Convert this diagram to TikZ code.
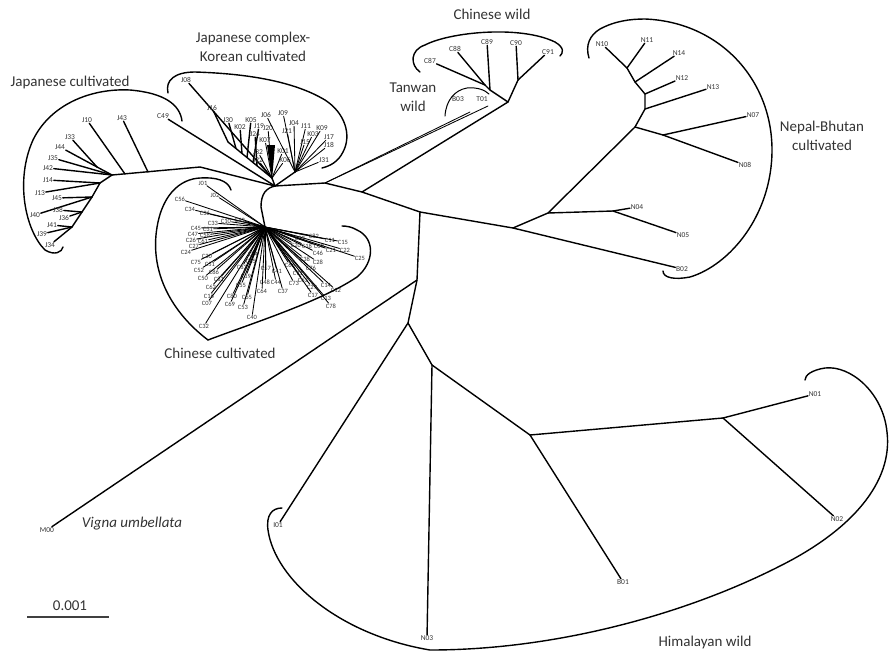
\documentclass[tikz,border=0pt]{standalone}
\usepackage{fontspec}
\setmainfont{Carlito}
\begin{document}
\begin{tikzpicture}[x=1pt,y=-1pt,
  br/.style={line width=1.4pt,line cap=round,line join=round},
  fan/.style={line width=0.85pt,line cap=round},
  hull/.style={line width=1.4pt,line cap=round},
  leaf/.style={font=\fontsize{7.5}{8}\selectfont,inner sep=0.6pt,text=black!80},
  dense/.style={font=\fontsize{6.5}{7}\selectfont,inner sep=0.4pt,text=black!80},
  grp/.style={font=\fontsize{15}{18.5}\selectfont,align=center,text=black!80,inner sep=0pt},
]
\useasboundingbox (0,0) rectangle (889,654);

% ---------- internal coordinates ----------
\coordinate (Hub) at (265,227);
\coordinate (bend) at (261,207);
\coordinate (R1) at (275,186);
\coordinate (Q) at (325,183);
\coordinate (W) at (362,192);
\coordinate (P) at (420,212);
% Japanese cultivated
\coordinate (JC) at (112,175);
\coordinate (JCa) at (200,167);
\coordinate (JA) at (97,167);
\coordinate (JB) at (100,183);
\coordinate (JB2) at (92,197);
\coordinate (JB3) at (82,212);
\coordinate (JB4) at (72,227);
\coordinate (j10p) at (125,174);
\coordinate (j43p) at (148,172);
% Japanese complex / Korean
\coordinate (JK) at (272,178);
\coordinate (JL) at (228,142);
\coordinate (jl1) at (236,148.5);
\coordinate (jl2) at (242,153.5);
\coordinate (jl3) at (247,157.5);
\coordinate (jl4) at (253,162.5);
\coordinate (jl5) at (257,165.7);
\coordinate (JR) at (295,172);
% Chinese wild
\coordinate (CW) at (508,102);
\coordinate (CW1) at (518,80);
\coordinate (CW2) at (490,90);
\coordinate (CW3) at (485,85);
\coordinate (b03e) at (470,112);
\coordinate (t01e) at (488,106);
% Nepal-Bhutan
\coordinate (NB1) at (513,228);
\coordinate (NB2) at (548,213);
\coordinate (N45) at (613,211);
\coordinate (NP) at (635,127);
\coordinate (N78) at (663,135);
\coordinate (N13n) at (645,109);
\coordinate (N12n) at (645,94);
\coordinate (N14n) at (635,82);
\coordinate (N1011) at (627,68);
% Himalayan
\coordinate (H1) at (417,280);
\coordinate (H2) at (408,323);
\coordinate (H3) at (432,365);
\coordinate (H4) at (530,435);
\coordinate (H5) at (723,418);

% ---------- backbone ----------
\draw[br] (Hub) -- (bend) .. controls (261,194) and (266,188) .. (R1) -- (Q) -- (W) -- (P);
\draw[br] (R1) -- (JCa) -- (JC);
\draw[br] (JC) -- (JA);
\draw[br] (JC) -- (JB) -- (JB2) -- (JB3) -- (JB4);
\draw[br] (R1) -- (JK) -- (JL);
\draw[br] (R1) -- (JR);
\draw[br] (W) -- (CW) -- (CW1);
\draw[br] (CW) -- (CW2) -- (CW3);
\draw[fan] (Q) -- (b03e);
\draw[fan] (Q) -- (t01e);
\draw[br] (P) -- (NB1) -- (NB2) -- (N45);
\draw[br] (NB2) -- (NP) -- (N78);
\draw[br] (NP) -- (N13n) -- (N12n) -- (N14n) -- (N1011);
\draw[br] (P) -- (H1) -- (H2) -- (H3) -- (H4) -- (H5);
\fill (267,145) -- (275,145) -- (272,180) -- cycle;

% ---------- leaves with parents ----------
\foreach \nm/\px/\py/\pa in {
  J33/70/137/JA, J44/60/147/JA, J35/53/158/JC, J42/48/168/JC,
  J14/48/180/JB, J13/40/193/JB, J45/57/198/JB2, J40/35/215/JB2,
  J38/58/210/JB3, J36/64/218/JB3, J41/52/225/JB4, J39/42/234/JB4,
  J34/50/245/JB4, J10/87/120/j10p, J43/122/118/j43p,
  C49/163/116/R1, J08/186/80/JK,
  J16/212/108/JL, J30/228/120/jl1, K02/240/127/jl2, K05/251/120/jl3,
  J19/259/126/jl4, J24/255/134/jl5,
  C87/430/61/CW3, C88/455/49/CW3, C89/487/42/CW2, C90/516/43/CW1, C91/548/52/CW1,
  B02/682/269/NB1, N04/637/207/N45, N05/683/235/N45, N07/753/115/N78,
  N08/745/165/N78, N13/713/87/N13n, N12/682/78/N12n, N14/679/53/N14n,
  N11/647/40/N1011, N10/602/44/N1011,
  M00/47/530/H1, I01/278/525/H2, N03/427/638/H3, B01/623/582/H4,
  N01/815/394/H5, N02/837/519/H5}
{
  \node[leaf] (\nm) at (\px,\py) {\nm};
  \draw[br] (\pa) -- (\nm);
}

% dense Japanese complex / Korean fan
\foreach \nm/\px/\py/\pa in {
  J20/268/128/JK, K07/265/140/JK, J32/258/152/JK, J22/258/160/JK,
  K01/283/151/JK, K06/285/160/JK,
  J06/266/115/JR, J09/283/113/JR, J21/287/131/JR, J04/294/123/JR,
  J11/306/126/JR, J15/305/142/JR, K03/313/134/JR, K09/322/128/JR,
  J17/329/137/JR, J18/329/145/JR, J31/324/160/JR}
{
  \node[leaf] (\nm) at (\px,\py) {\nm};
  \draw[fan] (\pa) -- (\nm);
}

% dense Chinese cultivated fan
\foreach \nm/\px/\py in {
  J01/203/183, J02/215/195, C56/180/199, C34/190/209, C36/205/213,
  C33/213/223, C10/226/221, C42/240/220, C45/196/228, C31/208/229,
  C47/193/234, C58/205/235, C26/191/240, C61/203/241, C27/194/246, C24/186/252,
  C30/207/256, C75/196/262, C51/210/264, C52/199/270, C86/214/272, C50/203/278,
  C81/219/279, C62/211/287, C16/209/296, C07/207/303, C32/204/326,
  C84/253/254, C85/251/261, C83/242/267, C19/246/276, C55/241/285, C80/232/296,
  C65/247/297, C69/230/304, C53/243/307, C40/252/317,
  C57/266/268, C41/277/271, C48/265/282, C44/276/282, C64/262/291, C37/283/291,
  C73/294/283, C66/290/265, C71/298/273, C63/303/280, C14/326/285, C12/336/290,
  C29/312/287, C17/313/295, C13/326/298, C78/331/306,
  C02/300/238, C82/314/236, C11/330/240, C15/343/242, C20/296/245, C18/307/246,
  C09/319/246, C22/345/250, C21/331/250, C46/318/253, C38/305/259, C28/318/262,
  C76/311/268, C25/360/258}
{
  \node[dense] (\nm) at (\px,\py) {\nm};
  \draw[fan] (Hub) -- (\nm);
}

\node[leaf] (B03) at (458,99) {B03};
\node[leaf] (T01) at (482,99) {T01};

% ---------- hulls ----------
\draw[hull] (182,121) .. controls (180,105) and (165,93) .. (130,90)
  .. controls (90,88) and (50,105) .. (33,140)
  .. controls (15,180) and (25,230) .. (45,250)
  .. controls (55,256) and (62,252) .. (63,247);
\draw[hull] (168,93) .. controls (165,80) and (175,72) .. (195,72)
  .. controls (260,74) and (300,85) .. (325,100)
  .. controls (345,113) and (352,135) .. (343,152)
  .. controls (338,162) and (330,166) .. (322,168);
\draw[hull] (231,190) .. controls (228,180) and (215,177) .. (200,178)
  .. controls (180,179) and (160,195) .. (156,235)
  .. controls (152,278) and (175,315) .. (208,340)
  .. controls (250,324) and (320,302) .. (357,277)
  .. controls (375,262) and (375,238) .. (357,230)
  .. controls (352,227) and (347,226) .. (342,226);
\draw[hull] (420,72) .. controls (410,65) and (410,50) .. (425,45)
  .. controls (450,32) and (520,25) .. (555,42)
  .. controls (565,48) and (563,53) .. (560,56);
\draw[hull,line width=1pt] (445,116) .. controls (446,100) and (455,90) .. (467,88)
  .. controls (477,87) and (485,90) .. (489,94);
\draw[hull] (589,58) .. controls (585,45) and (590,35) .. (600,29)
  .. controls (615,21) and (630,19) .. (645,19)
  .. controls (720,22) and (772,80) .. (772,150)
  .. controls (772,215) and (730,265) .. (690,277)
  .. controls (675,280) and (663,278) .. (663,271);
\draw[hull] (282,508) .. controls (272,508) and (266,515) .. (268,530)
  .. controls (275,580) and (340,635) .. (430,650)
  .. controls (560,650) and (690,612) .. (780,566)
  .. controls (852,530) and (893,482) .. (887,432)
  .. controls (883,392) and (850,365) .. (825,368)
  .. controls (812,370) and (805,375) .. (805,380);

% ---------- group labels ----------
\node[grp] (gJC) at (70,82) {Japanese cultivated};
\node[grp] (gJK) at (253,47) {Japanese complex-\\Korean cultivated};
\node[grp] (gCW) at (492,14) {Chinese wild};
\node[grp] (gTW) at (413,97) {Tanwan\\wild};
\node[grp] (gNB) at (822,136) {Nepal-Bhutan\\cultivated};
\node[grp] (gCC) at (220,353) {Chinese cultivated};
\node[grp] (gHW) at (705,642) {Himalayan wild};
\node[grp,font=\fontsize{15}{18.5}\selectfont\itshape] (gVU) at (132,524) {Vigna umbellata};

% ---------- scale bar ----------
\coordinate (sbL) at (27,617);
\coordinate (sbR) at (109,617);
\draw[line width=1.6pt,black!75] (sbL) -- (sbR);
\node[grp] (gSB) at (70,606) {0.001};
\end{tikzpicture}
\end{document}
